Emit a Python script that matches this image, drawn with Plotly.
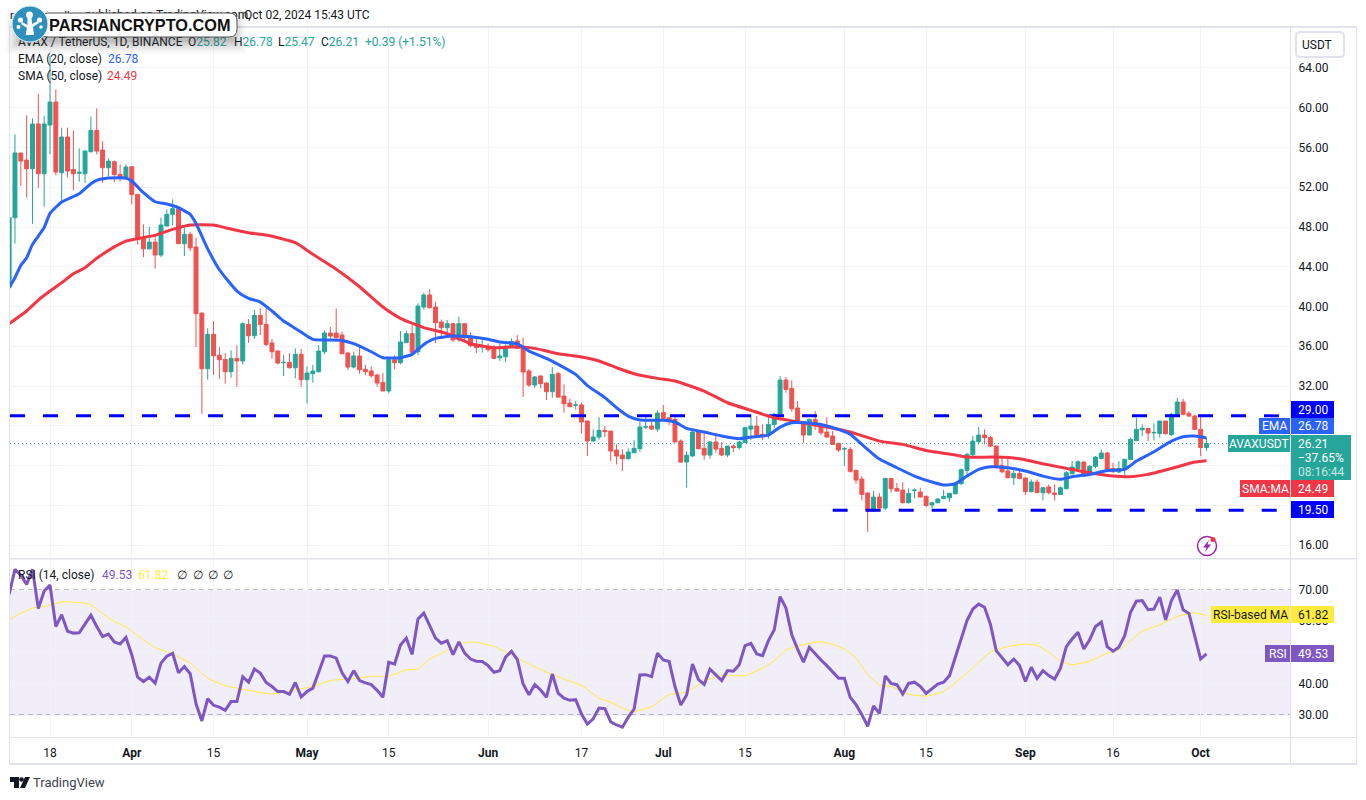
import pandas as pd
import plotly.graph_objects as go

W, H = 1366, 800
FONT = "Roboto"
UP, DOWN = "#26a69a", "#ef5350"
GRID = "#f0f3fa"
BORDER = "#e0e3eb"
INK = "#131722"

# daily candles from 2024-03-11: open, high, low, close
ohlc = [
    (42.0, 48.93, 41.9, 48.93), (48.93, 57.32, 46.32, 55.44), (55.44, 55.44, 52.12, 54.63), (54.73, 59.23, 50.95, 53.86),
    (53.86, 58.93, 48.33, 58.36), (58.36, 61.41, 51.95, 53.36), (53.36, 59.2, 50.04, 58.36), (58.26, 65.2, 55.3, 60.57),
    (60.57, 61.84, 53.2, 53.53), (53.46, 58.0, 50.5, 57.05), (57.05, 58.0, 53.0, 53.63), (53.8, 57.7, 51.68, 53.36),
    (53.4, 55.91, 52.56, 53.5), (53.36, 55.7, 52.42, 55.64), (55.57, 59.1, 55.5, 57.72), (57.72, 59.93, 55.3, 55.64),
    (55.74, 56.64, 52.45, 53.96), (53.96, 54.9, 53.1, 54.63), (54.57, 54.7, 52.52, 53.29), (53.29, 54.3, 52.6, 52.86),
    (52.86, 54.3, 52.8, 54.03), (54.06, 54.13, 50.27, 51.28), (51.28, 51.3, 46.25, 46.75), (46.92, 48.26, 44.97, 45.8),
    (45.8, 48.03, 45.75, 46.48), (46.48, 47.26, 43.8, 45.18), (45.18, 48.93, 44.97, 48.2), (48.1, 49.77, 48.1, 49.27),
    (49.27, 50.78, 48.2, 49.84), (49.84, 49.94, 46.3, 46.32), (46.32, 47.93, 45.08, 47.26), (47.26, 47.5, 45.58, 45.9),
    (45.98, 46.92, 35.92, 39.28), (39.34, 39.4, 29.2, 33.74), (33.74, 37.8, 32.64, 37.2), (37.2, 38.54, 33.1, 35.05),
    (35.09, 35.92, 32.7, 34.65), (34.68, 35.3, 32.24, 33.44), (33.44, 35.59, 32.84, 34.78), (34.78, 36.1, 31.93, 34.52),
    (34.52, 38.4, 34.18, 38.27), (38.2, 38.74, 36.36, 37.06), (37.06, 39.65, 36.76, 39.1), (39.1, 39.81, 37.13, 38.2),
    (38.2, 39.81, 36.02, 36.19), (36.33, 36.73, 34.75, 35.45), (35.52, 35.59, 34.18, 34.31), (34.35, 35.12, 33.0, 34.38),
    (34.38, 35.3, 33.78, 33.84), (33.84, 35.79, 32.77, 35.19), (35.19, 35.72, 31.93, 32.64), (32.64, 33.98, 30.22, 33.31),
    (33.24, 34.11, 32.34, 33.51), (33.44, 36.12, 33.34, 35.52), (35.45, 37.6, 35.19, 37.33), (37.33, 37.94, 36.6, 37.03),
    (37.33, 39.81, 36.8, 36.86), (37.13, 37.47, 35.19, 35.25), (35.32, 35.45, 33.61, 33.91), (33.91, 35.45, 33.78, 35.02),
    (35.02, 36.12, 33.24, 33.64), (33.68, 34.11, 33.1, 33.44), (33.51, 33.98, 32.84, 33.04), (33.1, 33.24, 31.93, 32.3),
    (32.37, 33.31, 31.5, 31.5), (31.5, 34.85, 31.3, 34.65), (34.65, 35.09, 33.71, 34.35), (34.35, 37.53, 34.18, 36.43),
    (36.36, 37.6, 36.33, 37.27), (37.27, 38.14, 35.25, 35.39), (35.45, 40.32, 35.12, 40.05), (39.95, 41.39, 39.68, 41.16),
    (41.16, 41.73, 39.81, 39.88), (39.95, 40.48, 36.33, 38.37), (38.44, 38.7, 37.03, 37.87), (37.87, 38.64, 36.86, 38.27),
    (38.27, 38.37, 36.46, 36.63), (36.66, 38.94, 36.46, 38.27), (38.27, 38.3, 36.53, 36.86), (37.03, 37.4, 35.92, 36.06),
    (36.19, 37.0, 35.32, 35.86), (35.95, 36.73, 35.35, 35.97), (35.99, 36.26, 35.45, 35.66), (35.86, 36.12, 34.72, 34.78),
    (34.85, 36.26, 34.52, 35.02), (34.95, 36.19, 34.42, 35.99), (35.99, 36.8, 35.92, 36.46), (36.53, 37.13, 35.72, 35.79),
    (35.86, 36.86, 30.9, 33.41), (33.51, 33.71, 31.9, 32.1), (32.1, 33.01, 31.83, 32.91), (33.01, 33.07, 31.77, 32.24),
    (32.3, 32.37, 30.59, 31.43), (31.43, 33.91, 30.83, 33.17), (33.24, 33.44, 30.83, 30.89), (30.99, 32.17, 29.32, 30.22),
    (30.29, 30.73, 29.89, 29.92), (30.07, 30.49, 29.65, 30.1), (30.1, 30.32, 27.24, 28.38), (28.48, 28.5, 24.96, 26.47),
    (26.47, 27.64, 26.4, 26.87), (26.87, 28.88, 26.6, 27.54), (27.54, 27.98, 26.87, 27.41), (27.47, 27.47, 24.45, 25.46),
    (25.56, 26.13, 24.11, 24.96), (25.06, 25.63, 23.45, 24.69), (24.69, 25.73, 24.59, 25.36), (25.29, 26.57, 25.29, 25.73),
    (25.7, 28.38, 25.39, 27.87), (27.87, 29.08, 27.67, 27.9), (27.97, 28.64, 27.57, 27.67), (27.67, 29.55, 27.41, 29.28),
    (29.32, 30.09, 28.55, 28.75), (28.81, 28.81, 28.08, 28.61), (28.64, 28.98, 26.37, 26.37), (26.47, 26.63, 24.29, 24.35),
    (24.35, 25.46, 21.77, 25.03), (24.96, 27.47, 24.89, 27.37), (27.37, 27.47, 25.63, 25.7), (25.73, 27.2, 24.59, 25.06),
    (25.06, 26.47, 24.69, 26.37), (26.37, 27.3, 25.29, 25.66), (25.73, 26.37, 24.96, 25.06), (25.06, 25.96, 24.86, 25.96),
    (25.96, 26.13, 25.36, 25.8), (25.8, 26.47, 25.63, 26.37), (26.3, 27.87, 26.3, 27.81), (27.67, 29.15, 26.53, 27.97),
    (27.97, 28.98, 26.97, 27.07), (27.14, 28.14, 26.57, 27.07), (27.07, 29.15, 26.7, 28.14), (28.14, 29.32, 27.81, 29.15),
    (28.98, 33.0, 28.55, 32.6), (32.6, 32.9, 31.33, 31.66), (31.76, 32.57, 29.42, 29.72), (29.79, 30.49, 28.28, 28.28),
    (28.41, 28.41, 26.3, 27.07), (27.07, 28.74, 27.07, 28.64), (28.64, 29.48, 27.57, 27.97), (28.04, 28.31, 27.07, 27.3),
    (27.37, 28.88, 26.8, 26.87), (26.97, 27.47, 26.06, 26.13), (26.23, 26.3, 25.39, 25.56), (25.66, 25.86, 23.95, 25.7),
    (25.63, 25.86, 23.28, 23.42), (23.51, 23.61, 22.17, 22.54), (22.64, 22.95, 20.5, 21.1), (21.23, 21.33, 17.31, 19.42),
    (19.42, 21.43, 19.42, 20.83), (20.83, 21.23, 19.72, 19.72), (19.72, 22.78, 19.52, 22.71), (22.71, 22.75, 21.27, 21.67),
    (21.7, 22.27, 21.37, 21.43), (21.53, 22.34, 20.2, 20.26), (20.26, 21.7, 20.2, 21.2), (21.5, 21.7, 20.7, 21.53),
    (21.33, 21.77, 20.76, 20.83), (20.9, 21.0, 19.82, 19.99), (20.03, 20.36, 19.69, 20.26), (20.26, 20.7, 20.2, 20.63),
    (20.7, 21.57, 20.6, 20.9), (20.76, 21.27, 20.36, 21.2), (21.17, 22.37, 21.1, 22.2), (22.17, 23.71, 22.04, 23.58),
    (23.51, 25.29, 23.04, 25.12), (25.09, 26.97, 24.95, 26.46), (26.4, 27.9, 26.13, 27.07), (27.07, 27.64, 26.13, 26.8),
    (26.83, 26.97, 25.86, 25.96), (25.96, 26.03, 23.71, 23.85), (24.02, 24.79, 23.21, 23.38), (23.45, 24.72, 22.71, 22.77),
    (22.77, 23.51, 22.04, 23.21), (23.21, 23.45, 22.61, 22.71), (22.74, 22.84, 21.03, 21.37), (21.37, 22.6, 21.3, 22.34),
    (22.34, 22.6, 21.23, 21.27), (21.27, 21.84, 20.5, 21.77), (21.84, 22.1, 21.1, 21.27), (21.23, 22.1, 20.5, 21.1),
    (21.1, 21.9, 21.03, 21.77), (21.67, 23.45, 21.6, 23.28), (23.18, 24.45, 23.11, 23.85), (23.71, 24.52, 23.61, 24.38),
    (24.35, 24.45, 22.84, 23.11), (23.11, 24.05, 22.94, 23.92), (23.92, 24.95, 23.71, 24.85), (24.72, 25.63, 24.62, 25.26),
    (25.26, 25.39, 23.51, 23.61), (23.71, 24.28, 23.28, 23.38), (23.35, 24.45, 23.24, 23.71), (23.71, 24.7, 22.71, 24.62),
    (24.62, 26.8, 24.55, 26.63), (26.53, 28.81, 26.46, 27.64), (27.6, 28.14, 26.97, 27.74), (27.74, 27.75, 26.46, 27.27),
    (27.3, 28.24, 26.53, 27.33), (27.23, 28.5, 26.8, 28.48), (28.48, 28.5, 27.13, 27.2), (27.13, 29.31, 26.97, 29.15),
    (28.98, 30.82, 28.91, 30.39), (30.39, 30.72, 29.05, 29.15), (29.25, 29.48, 28.91, 28.98), (28.98, 29.15, 27.57, 27.64),
    (27.64, 28.88, 24.95, 25.82), (25.82, 26.78, 25.47, 26.21),
]
df = pd.DataFrame(ohlc, columns=["open", "high", "low", "close"])
df["date"] = pd.date_range("2024-03-11", periods=len(df), freq="D")

# rsi, one reading per day from 2024-03-11
rsi = [
    68.6, 76.6, 74.7, 71.8, 76.6, 64.1, 69.7, 71.6, 58.3, 62.1, 56.8, 56.2, 56.3, 59.3, 61.9, 58.3, 55.1, 55.9, 53.4, 52.7,
    54.8, 49.3, 42.1, 40.7, 42.1, 40.2, 46.6, 48.8, 49.7, 43.5, 45.5, 43.2, 33.6, 28.1, 35.2, 33.1, 32.5, 31.5, 34.3, 34.3,
    42.2, 40.5, 44.7, 43.4, 40.4, 39.1, 37.5, 37.5, 36.6, 40.4, 35.8, 37.5, 38.6, 43.7, 48.9, 48.9, 48.2, 43.5, 40.7, 44.2,
    41.0, 40.3, 39.7, 37.9, 35.7, 46.9, 46.3, 52.4, 54.6, 49.4, 60.7, 62.6, 58.8, 54.6, 53.0, 53.8, 49.3, 53.4, 49.8, 47.9,
    47.2, 47.1, 45.8, 43.7, 44.2, 48.5, 50.4, 47.8, 39.9, 36.5, 39.7, 38.0, 35.7, 43.1, 37.0, 35.4, 34.7, 34.9, 30.3, 27.1,
    28.8, 32.2, 32.0, 27.8, 26.8, 26.1, 29.3, 31.9, 42.8, 42.9, 42.3, 49.8, 47.6, 47.1, 39.1, 33.2, 36.4, 46.3, 41.4, 39.8,
    44.7, 42.8, 41.0, 44.2, 44.0, 46.1, 52.2, 52.9, 49.5, 49.0, 53.8, 57.3, 67.9, 64.2, 55.7, 51.1, 46.9, 51.7, 49.5, 47.6,
    45.8, 43.9, 41.8, 41.8, 35.7, 33.3, 30.1, 26.4, 32.9, 30.5, 42.5, 40.1, 39.7, 36.7, 40.1, 40.5, 39.2, 36.9, 38.3, 39.9,
    40.5, 42.6, 48.5, 54.3, 60.2, 63.9, 65.5, 64.5, 59.1, 50.6, 48.5, 46.1, 47.9, 45.8, 40.7, 45.3, 41.7, 44.2, 42.6, 41.5,
    45.0, 51.9, 54.3, 56.5, 51.1, 54.1, 58.3, 59.7, 51.9, 50.4, 51.7, 55.4, 62.9, 66.4, 66.6, 63.7, 63.9, 67.7, 60.4, 66.6,
    70.0, 63.7, 62.5, 55.4, 47.9, 49.53,
]

ema = {
    "03-11": 41.9, "03-12": 42.9, "03-13": 44.14, "03-14": 44.9, "03-15": 46.25, "03-16": 47.09, "03-17": 47.95,
    "03-18": 49.37, "03-20": 50.51, "03-23": 51.35,
    "03-25": 52.35, "03-26": 52.69, "03-28": 52.92, "03-31": 52.92, "04-01": 52.62, "04-03": 51.45, "04-05": 50.54,
    "04-07": 50.31, "04-09": 49.94, "04-11": 49.27, "04-12": 48.35, "04-14": 45.8, "04-16": 43.7, "04-19": 41.56,
    "04-21": 40.82, "04-23": 40.45, "04-25": 39.55, "04-27": 38.54, "04-29": 37.8, "05-01": 37.03, "05-02": 36.7,
    "05-04": 36.63, "05-07": 36.59, "05-09": 36.26, "05-12": 35.45, "05-14": 34.85, "05-17": 34.85, "05-19": 35.19,
    "05-21": 36.19, "05-23": 36.8, "05-26": 37.03, "05-29": 36.96, "06-01": 36.7, "06-03": 36.43, "06-06": 36.26,
    "06-08": 35.52, "06-11": 34.78, "06-13": 34.18, "06-16": 33.17, "06-18": 32.05, "06-21": 30.83, "06-23": 29.82,
    "06-25": 28.98, "06-27": 28.58, "07-01": 28.55, "07-03": 28.38, "07-05": 27.74, "07-08": 27.37, "07-11": 26.97,
    "07-14": 26.7, "07-16": 26.87, "07-19": 27.07, "07-21": 27.87, "07-23": 28.31, "07-25": 28.31, "07-28": 28.14,
    "07-31": 27.64, "08-02": 27.14, "08-04": 26.13, "08-07": 24.65, "08-10": 23.78, "08-13": 22.94, "08-16": 22.34,
    "08-18": 22.04, "08-20": 22.17, "08-22": 22.94, "08-24": 23.61, "08-26": 23.88, "08-29": 23.78, "09-01": 23.45,
    "09-04": 22.94, "09-07": 22.61, "09-09": 22.88, "09-12": 23.11, "09-15": 23.51, "09-18": 23.61, "09-20": 24.45,
    "09-23": 25.39, "09-26": 26.46, "09-28": 26.9, "09-30": 26.97, "10-02": 26.78,
}
sma = {
    "03-11": 38.27, "03-14": 39.55, "03-16": 40.65, "03-18": 41.56, "03-20": 42.4, "03-22": 43.3, "03-24": 43.9,
    "03-26": 44.85, "03-29": 46.0, "03-31": 46.58, "04-02": 46.85, "04-05": 47.16, "04-08": 47.76, "04-11": 48.2, "04-15": 48.2, "04-17": 47.93,
    "04-21": 47.43, "04-24": 47.19, "04-29": 46.42, "05-02": 45.25, "05-06": 43.74, "05-10": 41.99, "05-14": 39.95,
    "05-17": 38.81, "05-21": 37.87, "05-25": 37.27, "05-29": 36.26, "06-02": 35.86, "06-06": 35.96, "06-09": 35.79,
    "06-13": 35.25, "06-16": 35.02, "06-20": 34.52, "06-23": 33.84, "06-26": 33.24, "06-30": 32.77, "07-03": 32.5,
    "07-08": 31.5, "07-12": 30.32, "07-16": 29.55, "07-20": 28.81, "07-24": 28.41, "07-29": 27.87, "08-02": 27.37,
    "08-07": 26.46, "08-11": 26.13, "08-15": 25.52, "08-20": 25.06, "08-22": 24.85, "08-27": 24.85, "08-31": 24.69,
    "09-04": 24.18, "09-09": 23.61, "09-13": 23.18, "09-16": 22.94, "09-19": 22.88, "09-22": 23.11, "09-26": 23.71,
    "09-30": 24.35, "10-02": 24.49,
}
rsi_ma = {
    "03-11": 60.5, "03-13": 62.6, "03-15": 64.2, "03-17": 64.7, "03-20": 66.2, "03-24": 65.8, "03-25": 65.1,
    "03-29": 59.9, "03-31": 58.2, "04-02": 55.4, "04-05": 51.6, "04-08": 49.5, "04-11": 46.6, "04-14": 41.8,
    "04-17": 39.4, "04-21": 37.9, "04-25": 36.7, "04-29": 38.1, "05-02": 39.1, "05-05": 41.0, "05-09": 41.6,
    "05-12": 42.4, "05-15": 42.4, "05-18": 44.4, "05-20": 44.7, "05-22": 47.9, "05-25": 50.6, "05-28": 53.2,
    "05-30": 53.3, "06-02": 51.9, "06-05": 49.2, "06-08": 46.3, "06-11": 43.7, "06-14": 41.5, "06-17": 39.4,
    "06-20": 35.4, "06-22": 34.1, "06-25": 31.4, "06-26": 31.1, "06-29": 32.7, "07-02": 36.5, "07-05": 37.3,
    "07-08": 40.8, "07-11": 42.6, "07-15": 42.6, "07-18": 45.0, "07-20": 47.4, "07-22": 50.8, "07-25": 52.5,
    "07-28": 53.5, "07-31": 51.9, "08-01": 51.1, "08-03": 48.2, "08-05": 42.9, "08-07": 39.7, "08-09": 39.1,
    "08-12": 36.7, "08-15": 36.0, "08-18": 37.6, "08-21": 41.8, "08-24": 46.9, "08-26": 50.1, "08-29": 51.9,
    "09-01": 52.7, "09-03": 52.2, "09-05": 50.1, "09-07": 47.2, "09-09": 46.1, "09-12": 47.2, "09-15": 49.8,
    "09-17": 50.8, "09-19": 53.8, "09-21": 56.8, "09-24": 58.9, "09-27": 61.5, "09-30": 62.7, "10-02": 61.82,
}


def dates(d):
    return ["2024-" + k for k in d]


# page pixels <-> axes, taken from the reference grid
start = df["date"][0]
x_left = start + pd.Timedelta(days=0.15)
x_right = start + pd.Timedelta(days=219.3)
x_end = start + pd.Timedelta(days=217.4)
x_support = start + pd.Timedelta(days=141)

fig = go.Figure()

fig.add_trace(go.Candlestick(
    x=df["date"], open=df["open"], high=df["high"], low=df["low"], close=df["close"],
    increasing=dict(line=dict(color=UP, width=1), fillcolor=UP),
    decreasing=dict(line=dict(color=DOWN, width=1), fillcolor=DOWN),
    whiskerwidth=0, xaxis="x", yaxis="y",
))
fig.add_trace(go.Scatter(x=[x_left, x_right], y=[26.21, 26.21], mode="lines",
                         line=dict(color=UP, width=1, dash="1px,3px"), xaxis="x", yaxis="y"))
fig.add_trace(go.Scatter(x=[x_left, x_end], y=[29, 29], mode="lines",
                         line=dict(color="#0000ff", width=3, dash="15px,18px"), xaxis="x", yaxis="y"))
fig.add_trace(go.Scatter(x=[x_support, x_end], y=[19.5, 19.5], mode="lines",
                         line=dict(color="#0000ff", width=3, dash="15px,18px"), xaxis="x", yaxis="y"))
fig.add_trace(go.Scatter(x=dates(sma), y=list(sma.values()), mode="lines",
                         line=dict(color="#f23645", width=3, shape="spline", smoothing=0.5), xaxis="x", yaxis="y"))
fig.add_trace(go.Scatter(x=dates(ema), y=list(ema.values()), mode="lines",
                         line=dict(color="#2962ff", width=3, shape="spline", smoothing=0.5), xaxis="x", yaxis="y"))

fig.add_trace(go.Scatter(x=dates(rsi_ma), y=list(rsi_ma.values()), mode="lines",
                         line=dict(color="#ffeb3b", width=1, shape="spline", smoothing=0.5), xaxis="x2", yaxis="y2"))
fig.add_trace(go.Scatter(x=df["date"], y=rsi, mode="lines",
                         line=dict(color="#7e57c2", width=3), xaxis="x2", yaxis="y2"))

# header and legend lines sit under the watermark, so they are trace text
teal = '<span style="color:%s">' % UP
header = [
    (10, 15, '<span style="font-size:11px">rakeshupadhyay</span>'),
    (85, 15, "published on TradingView.com,"),
    (244, 15, "Oct 02, 2024 15:43 UTC"),
    (18, 42, "AVAX / TetherUS, 1D, BINANCE"),
    (188, 42, "O" + teal + "25.82</span>"),
    (234, 42, "H" + teal + "26.78</span>"),
    (278, 42, "L" + teal + "25.47</span>"),
    (321, 42, "C" + teal + "26.21</span>"),
    (365, 42, teal + "+0.39 (+1.51%)</span>"),
    (18, 59, 'EMA (20, close)'),
    (108, 59, '<span style="color:#2962ff">26.78</span>'),
    (18, 76, 'SMA (50, close)'),
    (107, 76, '<span style="color:#f23645">24.49</span>'),
]
fig.add_trace(go.Scatter(
    x=[h[0] for h in header], y=[h[1] + 1 for h in header], text=[h[2] for h in header],
    mode="text", textposition="middle right", cliponaxis=False,
    textfont=dict(family=FONT, size=12, color=INK), xaxis="x3", yaxis="y3",
))

shapes = []
notes = []


def box(x0, y0, x1, y1, fill, line=None, layer="above"):
    shapes.append(dict(type="rect", xref="x3", yref="y3", x0=x0, y0=y0, x1=x1, y1=y1, fillcolor=fill,
                       line=dict(color=line or fill, width=1 if line else 0), layer=layer))


def dot(cx, cy, r, fill, line=None, w=0):
    shapes.append(dict(type="circle", xref="x3", yref="y3", x0=cx - r, y0=cy - r, x1=cx + r, y1=cy + r,
                       fillcolor=fill, line=dict(color=line or fill, width=w), layer="above"))


def poly(path, fill):
    shapes.append(dict(type="path", xref="x3", yref="y3", path=path, fillcolor=fill, line=dict(width=0), layer="above"))


def note(x, y, text, color=INK, size=12, anchor="left", font=FONT):
    notes.append(dict(xref="x3", yref="y3", x=x, y=y, text=text, showarrow=False, xanchor=anchor, yanchor="middle",
                      font=dict(family=font, size=size, color=color), borderpad=0, borderwidth=0))


def tag(y0, y1, value, fill, label=None, label_x=None, color="#ffffff"):
    if label:
        box(label_x, y0, 1290, y1, fill)
        note((label_x + 1290) / 2, (y0 + y1) / 2, label, color, anchor="center")
    box(1291, y0, 1334, y1, fill)
    note(1312.5, (y0 + y1) / 2, value, color, anchor="center")


# rsi band and guide levels
shapes.append(dict(type="rect", xref="x2 domain", yref="y2", x0=0, x1=1, y0=30, y1=70,
                   fillcolor="rgba(126,87,194,0.1)", line=dict(width=0), layer="below"))
for lev, col in [(70, "#787b86"), (50, "rgba(120,123,134,0.6)"), (30, "#787b86")]:
    shapes.append(dict(type="line", xref="x2 domain", yref="y2", x0=0, x1=1, y0=lev, y1=lev,
                       line=dict(color=col, width=1, dash="5px,4px"), layer="below"))

# frame
box(9, 27, 10, 764, BORDER)
box(1356, 27, 1357, 764, BORDER)
box(9, 26, 1357, 28, BORDER)
box(9, 763, 1357, 765, BORDER)
box(10, 558, 1356, 559.5, BORDER)
box(10, 737, 1356, 738, BORDER)
box(1290, 27, 1291, 764, BORDER)

# price tags
tag(401, 418, "29.00", "#0000ff")
tag(418, 434, "26.78", "#2962ff", "EMA", 1259)
box(1228, 435, 1290, 452, UP)
note(1259, 443.5, "AVAXUSDT", "#ffffff", anchor="center")
box(1291, 435, 1351, 480, UP)
note(1298, 443.5, "26.21", "#ffffff")
note(1298, 457.5, "−37.65%", "#ffffff")
note(1298, 471.5, "08:16:44", "#c8e6e3")
tag(480, 497, "24.49", "#f23645", "SMA:MA", 1240)
tag(501, 518, "19.50", "#0000ff")
tag(606, 623, "61.82", "#ffeb3b", "RSI-based MA", 1211, INK)
tag(645, 662, "49.53", "#7e57c2", "RSI", 1265)

# currency button
shapes.append(dict(type="path", xref="x3", yref="y3", layer="above", fillcolor="#ffffff", line=dict(color=BORDER, width=2),
                   path="M1300 32 H1340 Q1344 32 1344 36 V53 Q1344 57 1340 57 H1300 Q1296 57 1296 53 V36 Q1296 32 1300 32 Z"))
note(1302, 44.5, "USDT")

# rsi legend
note(18, 575, "RSI (14, close)")
note(102, 575, "49.53", "#7e57c2")
note(138, 575, "61.82", "#ffeb3b")
for nx in (175, 191, 206, 221):
    note(nx + 2, 575, "∅")

# alert icon
dot(1207, 546, 9.5, "#ffffff", "#9c27b0", 1.5)
poly("M1209 540 L1203 547.5 H1206.5 L1205 552 L1211 544.5 H1207.5 Z", "#9c27b0")
dot(1213, 539.5, 2.5, "#f23645")

# tradingview mark
poly("M10 777 H19 V788 H14 V782 H10 Z", INK)
dot(21.5, 779.5, 2.3, INK)
poly("M30 777 L25 788 H20 L25 777 Z", INK)
note(33, 782.5, "TradingView", "#3d414c", 13)

# watermark, blurred shadow built up from stacked translucent boxes
for grow, alpha in [(14, 0.025), (12, 0.03), (10, 0.04), (8, 0.05), (6, 0.06), (4, 0.07), (2, 0.09)]:
    shapes.append(dict(type="rect", xref="x3", yref="y3", x0=20 - grow, y0=24 - grow, x1=232 + grow, y1=40 + grow,
                       fillcolor="rgba(60,60,60,%s)" % alpha, line=dict(width=0), layer="above"))
shapes.append(dict(type="path", xref="x3", yref="y3", layer="above", fillcolor="#ffffff", line=dict(color="#555555", width=1),
                   path="M48 13 H229 Q237 13 237 21 V29 Q237 37 229 37 H48 Q40 37 40 29 V21 Q40 13 48 13 Z"))
dot(30, 24, 18, "#2f8fbd", "#e8f3f8", 1)
dot(29.5, 15, 3.4, "#ffffff")
dot(20.5, 20, 2.6, "#ffffff")
dot(39.5, 20, 2.6, "#ffffff")
dot(18.5, 27, 2, "#ffffff")
dot(41, 27, 1.8, "#ffffff")
poly("M27.5 17 H31.5 L32 24 L38 21 L39 23 L33 27 L34 35 H25.5 L27 28 L21 24 L22 22 L27.5 25 Z", "#ffffff")
note(49, 25, "<b>PARSIANCRYPTO.COM</b>", "#111111", 16.3, font="Liberation Sans")

fig.update_layout(shapes=shapes, annotations=notes)

ticks = ["2024-03-18", "2024-04-01", "2024-04-15", "2024-05-01", "2024-05-15", "2024-06-01", "2024-06-17",
         "2024-07-01", "2024-07-15", "2024-08-01", "2024-08-15", "2024-09-01", "2024-09-16", "2024-10-01"]
tick_text = ["18", "<b>Apr</b>", "15", "<b>May</b>", "15", "<b>Jun</b>", "17", "<b>Jul</b>", "15", "<b>Aug</b>", "15",
             "<b>Sep</b>", "16", "<b>Oct</b>"]
x_dom = [10 / W, 1290 / W]
common_x = dict(domain=x_dom, range=[x_left, x_right], type="date", showgrid=True, gridcolor=GRID, gridwidth=1,
                tickmode="array", tickvals=ticks, ticktext=tick_text, zeroline=False, showline=False,
                tickfont=dict(family=FONT, size=12, color=INK), fixedrange=True, rangeslider=dict(visible=False))
common_y = dict(side="right", showgrid=True, gridcolor=GRID, gridwidth=1, zeroline=False, showline=False, fixedrange=True,
                tickfont=dict(family=FONT, size=12, color=INK), ticks="outside", ticklen=5, tickcolor="rgba(0,0,0,0)")

# 24, 28 and 50 keep their grid lines but their labels sit behind the price tags
price_ticks = list(range(16, 65, 4))
price_text = ["" if v in (24, 28) else "%.2f" % v for v in price_ticks]
rsi_ticks = [30, 40, 50, 60, 70]
rsi_text = ["" if v == 50 else "%.2f" % v for v in rsi_ticks]

fig.update_layout(
    width=W, height=H, margin=dict(l=0, r=0, t=0, b=0), showlegend=False,
    paper_bgcolor="#ffffff", plot_bgcolor="rgba(0,0,0,0)", hovermode=False,
    boxgap=0.25, boxgroupgap=0.1,
    xaxis=dict(common_x, anchor="y", showticklabels=False, ticks=""),
    xaxis2=dict(common_x, anchor="y2", ticks="outside", ticklen=4, tickcolor="rgba(0,0,0,0)"),
    yaxis=dict(common_y, domain=[1 - 558 / H, 1 - 28 / H], range=[14.70, 68.02], anchor="x",
               tickmode="array", tickvals=price_ticks, ticktext=price_text),
    yaxis2=dict(common_y, domain=[1 - 738 / H, 1 - 561 / H], range=[22.64, 79.28], anchor="x2",
                tickmode="array", tickvals=rsi_ticks, ticktext=rsi_text),
    xaxis3=dict(domain=[0, 1], range=[0, W], visible=False, fixedrange=True, anchor="y3"),
    yaxis3=dict(domain=[0, 1], range=[H, 0], visible=False, fixedrange=True, anchor="x3"),
)

fig.write_html("out.html", post_script="document.body.style.margin='0';", config=dict(displayModeBar=False))
